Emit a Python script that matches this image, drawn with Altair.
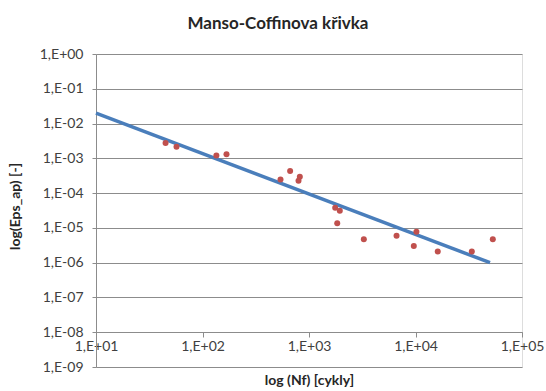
import altair as alt
import pandas as pd

# Data
cycles_nf = [45, 57, 135, 168, 540, 665, 820, 797, 1762, 1946, 1841,
             3273, 6637, 10200, 9640, 16180, 33800, 53200]
eps_ap = [2.78e-3, 2.14e-3, 1.21e-3, 1.32e-3, 2.48e-4, 4.3e-4, 2.95e-4, 2.27e-4,
          3.8e-5, 3.13e-5, 1.36e-5, 4.75e-6, 5.9e-6, 7.8e-6, 2.99e-6, 2.09e-6,
          2.09e-6, 4.75e-6]
trend_x = [10, 50100]
trend_y = [2.0e-2, 1.0e-6]

x_ticks = [1e1, 1e2, 1e3, 1e4, 1e5]
y_ticks = [1e-9, 1e-8, 1e-7, 1e-6, 1e-5, 1e-4, 1e-3, 1e-2, 1e-1, 1e0]

pts = pd.DataFrame({"x": cycles_nf, "y": eps_ap})
trend = pd.DataFrame({"x": trend_x, "y": trend_y})

label_expr = ("'1,E' + (round(log(datum.value)/LN10) >= 0 ? '+' : '-') + "
              "(abs(round(log(datum.value)/LN10)) < 10 ? '0' : '') + "
              "abs(round(log(datum.value)/LN10))")

FONT = "Lato"
GRID = "#8c8c8c"
LBL = "#404040"

x_scale = alt.Scale(type="log", domain=[1e1, 1e5], nice=False)
y_scale = alt.Scale(type="log", domain=[1e-9, 1e0], nice=False)

x_axis = alt.Axis(values=x_ticks, labelExpr=label_expr, title="log (Nf) [cykly]",
                  offset=-35, grid=False, tickSize=5, tickColor=GRID,
                  domainColor=GRID, labelFont=FONT, labelFontSize=14,
                  labelColor=LBL, labelPadding=2, labelFlush=False,
                  titleFont=FONT, titleFontSize=14, titleFontWeight="bold",
                  titleColor="#262626", titleY=48, titleBaseline="middle")
y_axis = alt.Axis(values=y_ticks, labelExpr=label_expr, title="log(Eps_ap) [-]",
                  grid=True, gridColor=GRID, gridWidth=1, tickSize=4,
                  tickColor=GRID, domainColor=GRID, labelFont=FONT,
                  labelFontSize=14, labelColor=LBL, labelPadding=9,
                  labelFlush=False, titleFont=FONT, titleFontSize=14,
                  titleFontWeight="bold", titleColor="#262626",
                  titleX=-81, titleY=152, titleAngle=-90,
                  titleAlign="center", titleBaseline="middle")

points = alt.Chart(pts).mark_circle(size=36, color="#C0504D", opacity=1).encode(
    x=alt.X("x:Q", scale=x_scale, axis=x_axis),
    y=alt.Y("y:Q", scale=y_scale, axis=y_axis),
)

line = alt.Chart(trend).mark_line(color="#4A7EBB", strokeWidth=3.5).encode(
    x=alt.X("x:Q", scale=x_scale),
    y=alt.Y("y:Q", scale=y_scale),
)

chart = alt.layer(line, points).properties(
    width=426,
    height=313,
    title=alt.TitleParams("Manso-Coffinova křivka", font=FONT, fontSize=17,
                          fontWeight="bold", color="#262626", anchor="middle",
                          frame="group", dx=-31, offset=14),
    padding={"left": 96, "top": 54, "right": 24, "bottom": 24},
    autosize=alt.AutoSizeParams(type="none"),
).configure_view(stroke=None).configure(background="white")

chart.save("out.html", embed_options={"renderer": "svg", "actions": False})
